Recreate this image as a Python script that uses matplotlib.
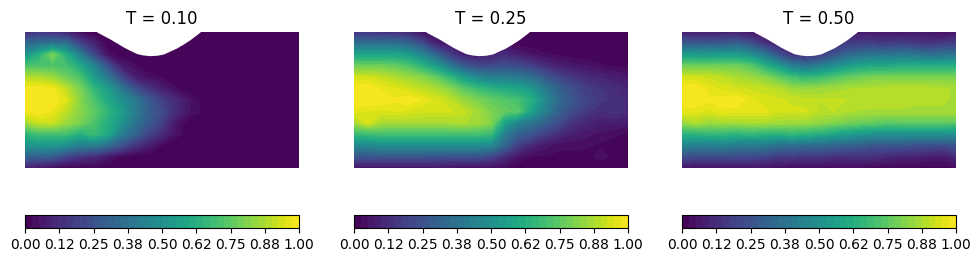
import numpy as np
import matplotlib
matplotlib.use("Agg")
import matplotlib.pyplot as plt

titles = ["T = 0.10", "T = 0.25", "T = 0.50"]
tick_values = [0, 0.125, 0.25, 0.375, 0.5, 0.625, 0.75, 0.875, 1.0]

# Values; rows run from top to bottom of the domain.
field_t010 = [
    [.12,.14,.12,.10,.02,0,0,0,0,0,0,0,0,0,0,0,0,0,0,0,0],
    [.32,.36,.38,.36,.20,.10,0,0,0,0,0,0,0,0,0,0,0,0,0,0,0],
    [.50,.62,.80,.62,.42,.22,.05,0,0,0,0,0,0,0,0,0,0,0,0,0,0],
    [.72,.72,.72,.70,.60,.45,.25,.08,.03,0,0,0,0,0,0,0,0,0,0,0,0],
    [.88,.88,.85,.78,.72,.55,.40,.22,.08,.04,.02,0,0,0,0,0,0,0,0,0,0],
    [1.0,1.0,.98,.90,.80,.66,.55,.40,.25,.15,.08,.03,0,0,0,0,0,0,0,0,0],
    [1.0,1.0,1.0,.95,.82,.72,.60,.50,.40,.28,.18,.12,.05,.01,0,0,0,0,0,0,0],
    [.98,1.0,.97,.90,.82,.75,.66,.55,.42,.30,.22,.12,.05,.02,0,0,0,0,0,0,0],
    [.85,.92,.92,.85,.80,.72,.62,.52,.38,.28,.18,.06,0,0,0,0,0,0,0,0,0],
    [.65,.70,.70,.70,.62,.68,.60,.42,.32,.20,.12,.04,0,0,0,0,0,0,0,0,0],
    [.50,.52,.52,.48,.42,.42,.35,.25,.15,.08,.02,0,0,0,0,0,0,0,0,0,0],
    [.30,.30,.28,.20,.14,.12,.06,.02,0,0,0,0,0,0,0,0,0,0,0,0,0],
    [.08,.05,.02,0,0,0,0,0,0,0,0,0,0,0,0,0,0,0,0,0,0],
]
field_t025 = [
    [.15,.14,.13,.12,.10,.04,.02,.02,.02,.02,.02,.02,.02,.01,0,0,0,0,0,0,0],
    [.36,.36,.36,.36,.32,.22,.08,.05,.03,.02,.03,.02,.01,0,0,0,0,0,0,0,0],
    [.58,.58,.58,.58,.54,.44,.32,.18,.08,.06,.08,.12,.08,.05,.03,.02,.01,0,0,0,0],
    [.78,.78,.78,.76,.72,.64,.54,.40,.28,.22,.22,.24,.22,.18,.12,.08,.06,.05,.03,.02,.02],
    [.93,.93,.91,.88,.85,.82,.76,.66,.55,.46,.42,.42,.40,.36,.27,.20,.15,.12,.10,.08,.06],
    [1.0,1.0,.97,.95,.93,.90,.87,.82,.74,.68,.64,.60,.58,.52,.40,.30,.23,.18,.15,.12,.10],
    [1.0,1.0,1.0,.98,1.0,.97,.94,.90,.84,.80,.76,.73,.70,.62,.46,.33,.26,.20,.16,.14,.12],
    [.96,.95,.94,.95,.94,.93,.93,.93,.91,.86,.80,.76,.74,.56,.42,.30,.22,.16,.12,.14,.12],
    [.86,.94,.87,.87,.87,.87,.87,.87,.88,.86,.82,.56,.44,.38,.30,.22,.14,.10,.08,.08,.06],
    [.68,.68,.70,.70,.70,.70,.70,.70,.70,.70,.68,.42,.30,.25,.18,.12,.08,.06,.04,.03,.02],
    [.46,.46,.48,.48,.48,.48,.48,.48,.48,.48,.46,.32,.18,.10,.06,.03,.03,.03,.02,.01,.01],
    [.26,.26,.26,.26,.26,.26,.25,.24,.24,.24,.20,.12,.05,.02,.02,.02,.02,.01,.04,.01,.01],
    [.05,.05,.05,.05,.05,.05,.05,.04,.03,.03,.03,.02,0,0,0,0,0,0,0,0,0],
]
field_t050 = [
    [.08,.08,.08,.08,.07,.05,.03,.02,.02,.02,.02,.03,.06,.06,.06,.06,.05,.06,.05,.03,.05],
    [.28,.27,.26,.28,.30,.24,.14,.07,.03,.04,.06,.12,.17,.18,.18,.16,.18,.16,.14,.16,.18],
    [.55,.54,.54,.55,.55,.50,.40,.26,.14,.12,.15,.24,.32,.36,.38,.38,.40,.38,.36,.37,.38],
    [.78,.78,.78,.78,.78,.74,.64,.54,.42,.38,.42,.48,.54,.58,.60,.60,.62,.62,.62,.62,.62],
    [.93,.93,.92,.90,.87,.85,.82,.76,.70,.66,.68,.72,.76,.78,.80,.80,.80,.80,.80,.80,.80],
    [1.0,1.0,.96,.94,.93,.92,.91,.89,.85,.84,.85,.86,.87,.88,.88,.89,.89,.89,.89,.88,.87],
    [1.0,1.0,.98,.99,1.0,.96,.94,.93,.92,.91,.90,.91,.90,.90,.89,.89,.89,.88,.88,.88,.87],
    [.96,.96,.94,.97,.96,.96,.96,.93,.93,.93,.90,.90,.88,.87,.87,.87,.87,.87,.87,.87,.87],
    [.84,.88,.85,.86,.86,.87,.87,.86,.85,.85,.83,.81,.79,.77,.76,.74,.75,.75,.75,.75,.75],
    [.64,.64,.66,.66,.64,.66,.64,.64,.66,.64,.62,.58,.55,.52,.50,.50,.50,.50,.50,.50,.48],
    [.45,.42,.42,.44,.40,.40,.40,.36,.36,.34,.34,.32,.30,.29,.26,.26,.26,.24,.24,.22,.26],
    [.24,.22,.22,.22,.22,.22,.20,.17,.17,.15,.15,.13,.13,.13,.13,.11,.09,.09,.07,.07,.11],
    [.05,.04,.04,.04,.04,.04,.04,.03,.02,.02,.02,.02,.02,.02,.01,.01,.01,.01,.01,.01,.02],
]
fields = [field_t010, field_t025, field_t050]

# Outline of the notch cut into the top wall (axes fractions, depth from top).
bump_x = [.262,.31,.335,.359,.383,.408,.431,.456,.481,.505,.529,.553,.578,.602,.639]
bump_depth = [0,.051,.081,.110,.135,.159,.169,.174,.171,.162,.14,.118,.088,.057,0]

W, H = 980, 262
fig = plt.figure(figsize=(W / 100, H / 100), dpi=100)
lefts = [25, 354, 682]
width = 274
levels = np.linspace(0, 1, 41)

for left, title, field in zip(lefts, titles, fields):
    ax = fig.add_axes([left / W, 1 - 168 / H, width / W, 136 / H])
    z = np.array(field)
    x = np.linspace(0, 1, z.shape[1])
    y = np.linspace(1, 0, z.shape[0])
    cf = ax.contourf(x, y, z, levels=levels, cmap="viridis", vmin=0, vmax=1)
    ax.fill_between(bump_x, 1 - np.array(bump_depth), 1.01, color="white", lw=0, zorder=3)
    ax.set_xlim(0, 1)
    ax.set_ylim(0, 1)
    ax.axis("off")
    ax.set_title(title, fontsize=12)

    cax = fig.add_axes([left / W, 1 - 228 / H, width / W, 13 / H])
    cb = fig.colorbar(cf, cax=cax, orientation="horizontal", ticks=tick_values, format="%.2f")
    cb.ax.tick_params(labelsize=10)

fig.savefig("out.png", dpi=100)
